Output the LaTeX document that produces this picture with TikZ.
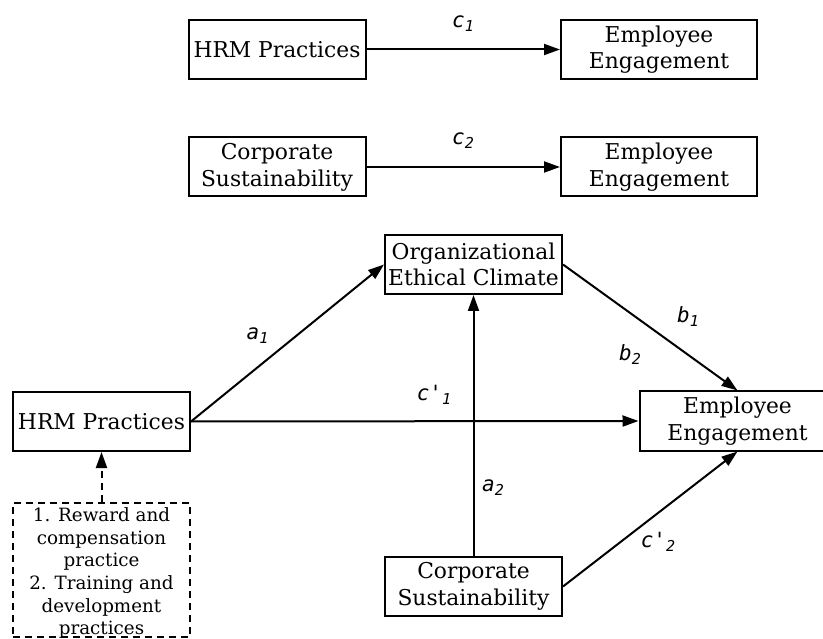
\documentclass[tikz,border=0pt]{standalone}
\usepackage{fontspec}
\setmainfont{DejaVu Serif}
\newfontfamily\lblfont{DejaVu Sans Mono}
\usetikzlibrary{arrows.meta}
\newcommand\lsub[1]{\raisebox{-0.35ex}{\fontsize{15}{15}\selectfont #1}}
\begin{document}
\begin{tikzpicture}[x=1pt,y=-1pt,
  box/.style={draw, line width=2pt, minimum width=177pt, minimum height=59pt, inner sep=0pt, align=center, font=\fontsize{21.8}{26.7}\selectfont},
  wbox/.style={box, minimum width=196pt},
  conn/.style={line width=2pt, -{Triangle[length=16pt,width=11pt]}},
  lbl/.style={font=\lblfont\itshape\fontsize{21}{24}\selectfont, inner sep=0pt},
  dbox/.style={draw, line width=1.8pt, dash pattern=on 7pt off 5pt, minimum width=177pt, minimum height=134pt, inner sep=0pt},
  dtext/.style={align=center, inner sep=0pt, font=\fontsize{18.3}{22.7}\selectfont},
]
\useasboundingbox (0,0) rectangle (823,639);
% top rows
\node[box] (hrmA) at (277,49.5) {HRM Practices};
\node[wbox] (eeA) at (659,49.5) {Employee\\Engagement};
\node[box] (csA) at (277,167) {Corporate\\Sustainability};
\node[wbox] (eeB) at (659,167) {Employee\\Engagement};
\draw[conn] (hrmA) -- (eeA);
\draw[conn] (csA) -- (eeB);
\node[lbl] (lc1) at (463,24) {c\lsub{1}};
\node[lbl] (lc2) at (463,141) {c\lsub{2}};
% mediation model
\node[box] (oec) at (473.5,264.5) {Organizational\\Ethical Climate};
\node[box] (hrm) at (101.5,421.5) {HRM Practices};
\node[wbox] (ee) at (737.5,421) {Employee\\Engagement};
\node[box] (cs) at (473.5,586.5) {Corporate\\Sustainability};
\node[dbox] (det) at (101.5,570) {};
\node[dtext] (dettext) at (101.5,573) {1. Reward and\\compensation\\practice\\2. Training and\\development\\practices};
\draw[conn] (hrm.east) -- (oec.west);
\draw[conn] (oec.east) -- (ee.north);
\draw[conn] (hrm.east) -- (ee.west);
\draw[conn] (cs.north) -- (oec.south);
\draw[conn] (cs.east) -- (ee.south);
\draw[conn, dash pattern=on 7pt off 5pt] (det.north) -- (hrm.south);
\node[lbl] (la1) at (257.5,335.5) {a\lsub{1}};
\node[lbl] (lb1) at (688,316.5) {b\lsub{1}};
\node[lbl] (lb2) at (630,355) {b\lsub{2}};
\node[lbl] (lcp1) at (434,395) {c\char"27\lsub{1}};
\node[lbl] (la2) at (493,487.5) {a\lsub{2}};
\node[lbl] (lcp2) at (658,541.5) {c\char"27\lsub{2}};
\end{tikzpicture}
\end{document}
